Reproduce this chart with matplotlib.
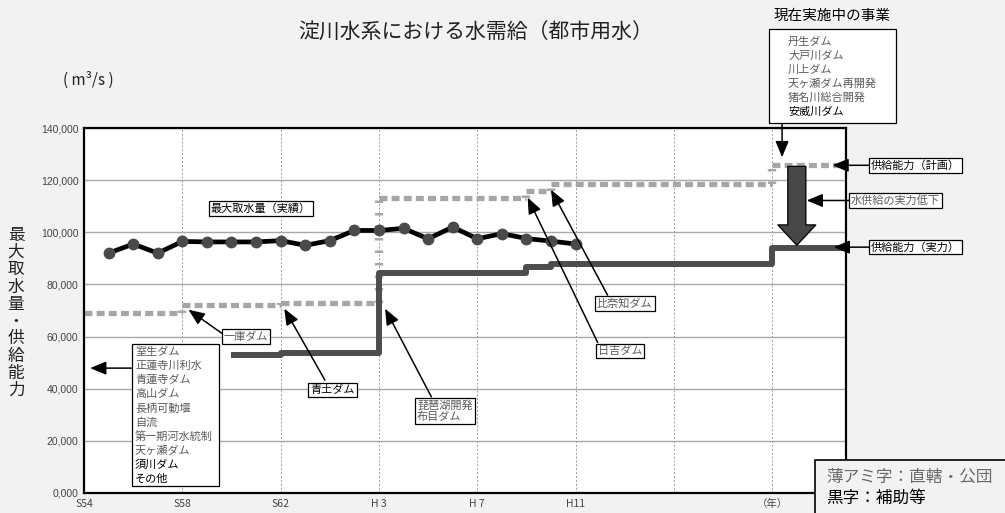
import matplotlib.pyplot as plt
from matplotlib.patches import Rectangle

plt.rcParams['font.family'] = ['Noto Sans CJK JP', 'DejaVu Sans']

# 最大取水量（実績） m3/s
intake_years = list(range(1980, 2000))
intake = [92000, 95500, 92000, 96500, 96300, 96300, 96300, 96800, 95000, 96800,
          100700, 100700, 101500, 97500, 102000, 97500, 99500, 97600, 96600, 95500]

# 供給能力（計画） - 段階状
plan_years = [1979, 1983, 1987, 1991, 1997, 1998, 2007, 2010]
plan = [69000, 72000, 72800, 113000, 115800, 118400, 126000, 126000]

# 供給能力（実力）
real_years = [1985, 1987, 1991, 1997, 1998, 2007, 2010]
real = [53000, 53700, 84200, 86500, 88000, 93800, 93800]

tick_years = [1979, 1983, 1987, 1991, 1995, 1999, 2003, 2007]
tick_labels = ['S54', 'S58', 'S62', 'H 3', 'H 7', 'H11', '', '（年）']
ytick_vals = [0, 20000, 40000, 60000, 80000, 100000, 120000, 140000]
ytick_labels = ['0,000', '20,000', '40,000', '60,000', '80,000', '100,000', '120,000', '140,000']

old_dams = ['室生ダム', '正蓮寺川利水', '青蓮寺ダム', '高山ダム', '長柄可動堰', '自流',
            '第一期河水統制', '天ヶ瀬ダム', '須川ダム', 'その他']
old_black = ['須川ダム', 'その他']
new_dams = ['丹生ダム', '大戸川ダム', '川上ダム', '天ヶ瀬ダム再開発', '猪名川総合開発', '安威川ダム']
new_black = ['安威川ダム']

W, H = 1005, 513
GREY_TXT = '#5a5a5a'
PLAN_C = '#a6a6a6'


def fx(px):
    return px / W


def fy(py):
    return 1 - py / H


fig = plt.figure(figsize=(W / 100, H / 100), dpi=100, facecolor='#f2f2f2')
ax = fig.add_axes([fx(84), fy(493), (846 - 84) / W, (493 - 128) / H])
ax.set_facecolor('white')
ax.set_xlim(1979, 2010)
ax.set_ylim(0, 140000)

ax.set_yticks(ytick_vals)
ax.set_yticklabels(ytick_labels, family=['Liberation Sans'], fontsize=7.5, color='#444')
ax.set_xticks(tick_years)
ax.set_xticklabels(tick_labels, fontsize=7.5, color='#444')
ax.tick_params(length=0, pad=4)
ax.grid(axis='y', color='#a8a8a8', lw=1, ls='-')
ax.grid(axis='x', color='#9a9a9a', lw=0.7, ls=(0, (2, 2)))
ax.set_axisbelow(True)
for sp in ax.spines.values():
    sp.set_color('black')
    sp.set_linewidth(1.6)

# 計画の段: 水平部は角点線、立ち上がりは横縞
ax.hlines(plan[:-1], plan_years[:-1], plan_years[1:], color=PLAN_C, lw=3.8,
          ls=(0, (1.5, 0.8)), zorder=2)
ax.vlines(plan_years[1:-1], plan[:-2], plan[1:-1], color=PLAN_C, lw=6,
          ls=(0, (0.3, 1.2)), zorder=2)
ax.step(real_years, real, where='post', color='#4d4d4d', lw=4.3,
        solid_capstyle='butt', zorder=3)
ax.plot(intake_years, intake, color='black', lw=3.4, marker='o', ms=7.5,
        mfc='#4a4a4a', mec='#4a4a4a', zorder=4)


def arrow(head, tail):
    ax.annotate('', xy=head, xytext=tail, annotation_clip=False,
                arrowprops=dict(arrowstyle='-|>,head_length=0.65,head_width=0.27',
                                color='black', lw=1.1, shrinkA=0, shrinkB=0,
                                mutation_scale=15), zorder=6)


def label(x, y, s, color='black', ha='center', size=8):
    ax.text(x, y, s, ha=ha, va='center', fontsize=size, color=color, zorder=7,
            linespacing=1.1, clip_on=False,
            bbox=dict(boxstyle='square,pad=0.18', fc='white', ec='black', lw=0.9))


label(1986.2, 109200, '最大取水量（実績）')

label(1985.6, 60000, '一庫ダム', GREY_TXT)
arrow((1983.25, 70300), (1984.6, 61300))

label(1989.1, 39600, '青土ダム')
arrow((1987.15, 70700), (1988.8, 43300))

label(1992.55, 31300, '琵琶湖開発\n布目ダム', GREY_TXT, ha='left')
arrow((1991.25, 70700), (1993.13, 36900))

label(2001.0, 72700, '比奈知ダム', GREY_TXT)
arrow((1998.0, 116300), (2000.3, 75900))

label(2000.8, 54500, '日吉ダム', GREY_TXT)
arrow((1997.05, 113300), (1999.9, 57700))

# 計画と実力の差
ax.annotate('', xy=(2008, 95000), xytext=(2008, 125300), annotation_clip=False,
            arrowprops=dict(arrowstyle='simple,head_length=1.05,head_width=1.95,tail_width=0.93',
                            fc='#474747', ec='black', lw=0.9, shrinkA=0, shrinkB=0,
                            mutation_scale=14), zorder=5)

label(2011.0, 125700, '供給能力（計画）', ha='left')
arrow((2009.45, 125700), (2011.0, 125700))
label(2010.2, 112200, '水供給の実力低下', GREY_TXT, ha='left')
arrow((2008.4, 112200), (2010.2, 112200))
label(2011.0, 94300, '供給能力（実力）', ha='left')
arrow((2009.5, 94300), (2011.0, 94300))

# 既設事業の一覧
fig.add_artist(Rectangle((fx(131.5), fy(486)), (219 - 131.5) / W, (486 - 344) / H,
                         transform=fig.transFigure, fc='white', ec='black', lw=0.9, zorder=5))
for i, name in enumerate(old_dams):
    fig.text(fx(135), fy(352 + 14.1 * i), name, fontsize=8, va='center', zorder=6,
             color='black' if name in old_black else GREY_TXT)
arrow((1979.25, 47900), (1980.95, 47900))

# 現在実施中の事業
fig.text(fx(832), fy(16), '現在実施中の事業', fontsize=10.5, ha='center', va='center')
fig.add_artist(Rectangle((fx(769), fy(123)), (896 - 769) / W, (123 - 29) / H,
                         transform=fig.transFigure, fc='white', ec='black', lw=0.9))
for i, name in enumerate(new_dams):
    fig.text(fx(788), fy(42 + 14 * i), name, fontsize=8, va='center',
             color='black' if name in new_black else GREY_TXT)
arrow((2007.4, 128800), (2007.4, 141700))

# 凡例（文字色）
fig.add_artist(Rectangle((fx(815), fy(520)), 200 / W, 60 / H,
                         transform=fig.transFigure, fc='#f2f2f2', ec='black', lw=1.2))
fig.text(fx(826), fy(477), '薄アミ字：直轄・公団', fontsize=12, va='center', color='#6a6a6a')
fig.text(fx(826), fy(498), '黒字：補助等', fontsize=12, va='center', color='black')

fig.text(fx(476), fy(33), '淀川水系における水需給（都市用水）', fontsize=15,
         ha='center', va='center', color='#222')
fig.text(fx(88), fy(80), '( m³/s )', fontsize=11, ha='center', va='center', color='#222')
fig.text(fx(16), fy(313), '\n'.join('最大取水量・供給能力'), fontsize=12,
         ha='center', va='center', linespacing=1.02, color='#222')

fig.savefig('out.png', dpi=100, facecolor=fig.get_facecolor())
